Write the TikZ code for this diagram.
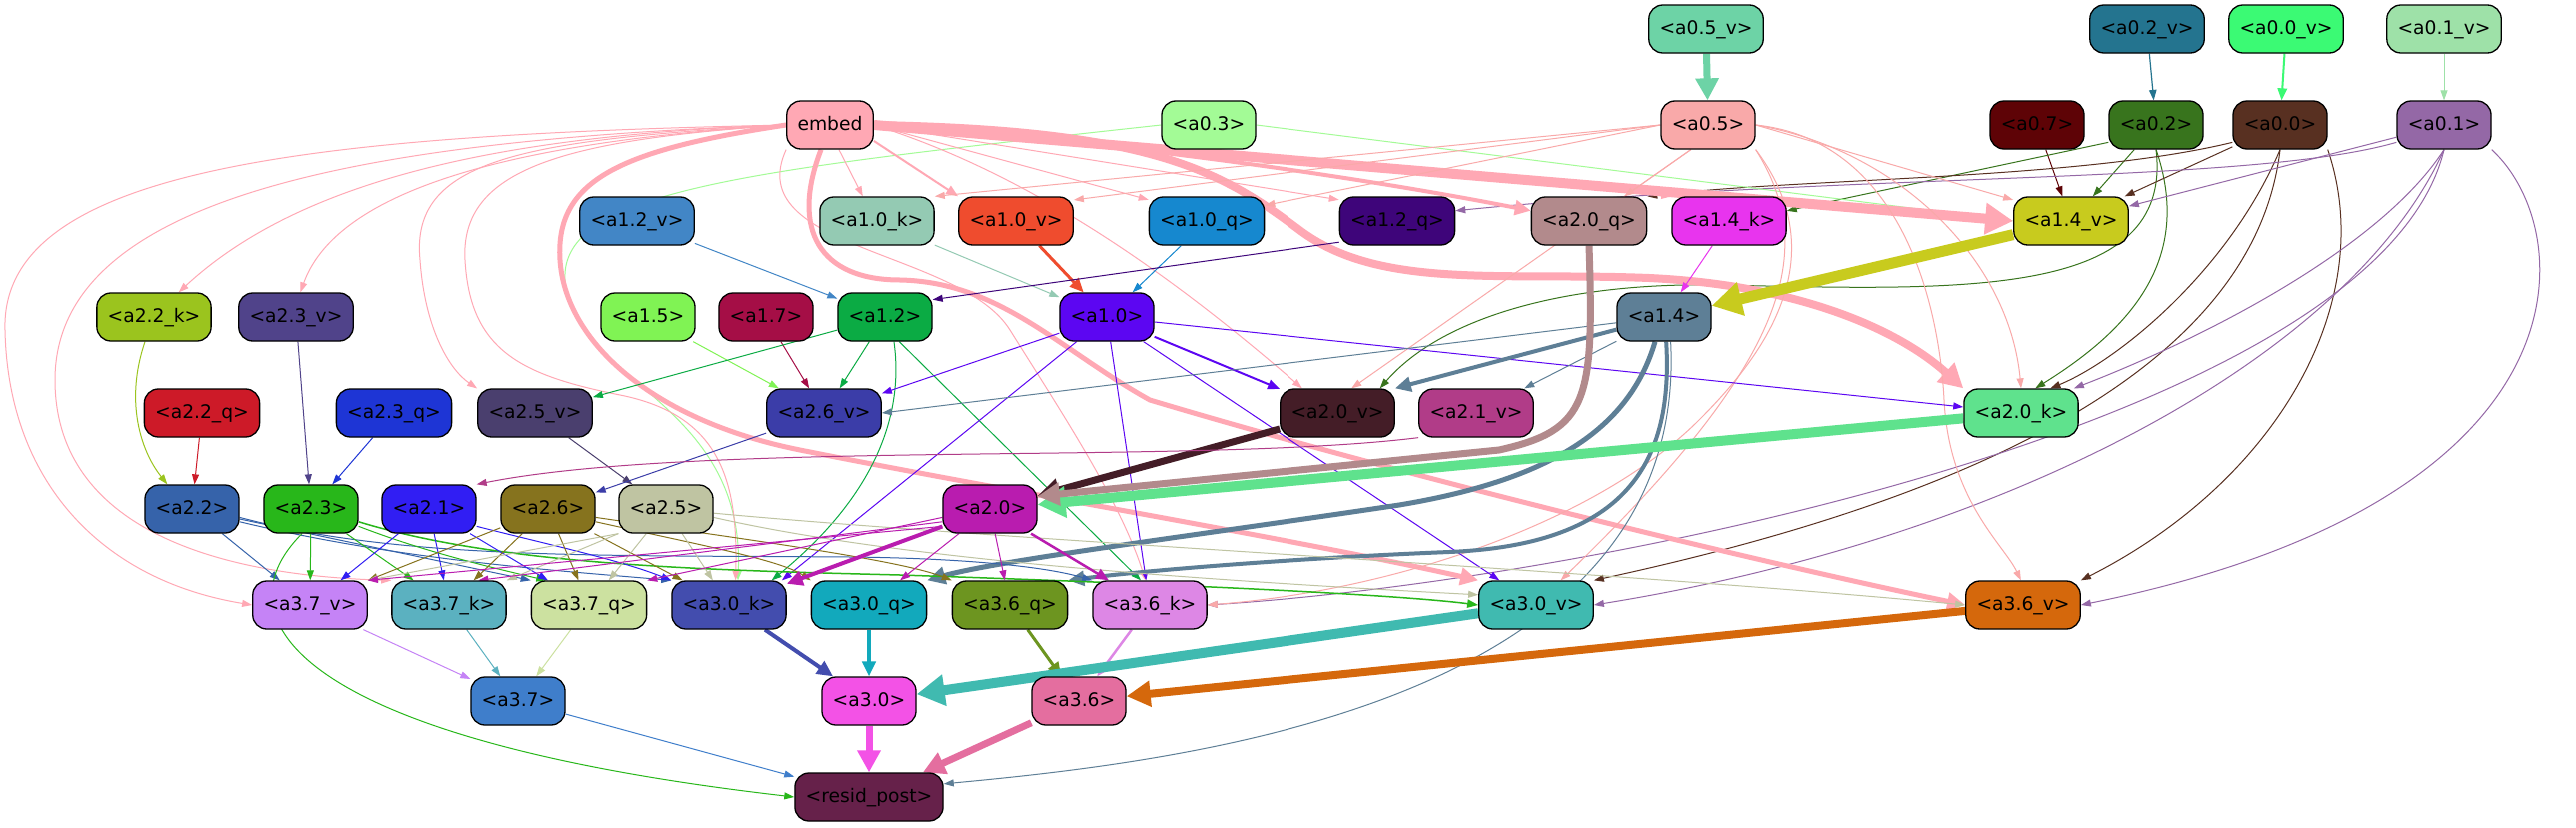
\documentclass[tikz,border=0pt]{standalone}
\usepackage{fontspec}
\setmainfont{DejaVu Sans}
\usetikzlibrary{arrows.meta}
\pgfdeclarelayer{back}\pgfdeclarelayer{edges}
\pgfsetlayers{back,edges,main}
\definecolor{cemb}{HTML}{FFA8B4}
\definecolor{c05v}{HTML}{6DD3A6}
\definecolor{c02v}{HTML}{24748F}
\definecolor{c00v}{HTML}{3BFA74}
\definecolor{c01v}{HTML}{9EE1A8}
\definecolor{c03}{HTML}{A3FB96}
\definecolor{c05}{HTML}{F9A9A9}
\definecolor{c07}{HTML}{5E0306}
\definecolor{c02}{HTML}{38741D}
\definecolor{c00}{HTML}{583021}
\definecolor{c01}{HTML}{9468A6}
\definecolor{c12v}{HTML}{4286C6}
\definecolor{c10k}{HTML}{94CAB3}
\definecolor{c10v}{HTML}{EF4C2E}
\definecolor{c10q}{HTML}{1688CF}
\definecolor{c12q}{HTML}{3E057A}
\definecolor{c20q}{HTML}{B28A8C}
\definecolor{c14k}{HTML}{E834EE}
\definecolor{c14v}{HTML}{C8CB1E}
\definecolor{c22k}{HTML}{9BC41E}
\definecolor{c23v}{HTML}{50438A}
\definecolor{c15}{HTML}{80F354}
\definecolor{c17}{HTML}{A50E46}
\definecolor{c12}{HTML}{0BAB44}
\definecolor{c10}{HTML}{5C06F2}
\definecolor{c14}{HTML}{5E7F96}
\definecolor{c22q}{HTML}{CD1A28}
\definecolor{c23q}{HTML}{1E35D5}
\definecolor{c25v}{HTML}{4A3F6E}
\definecolor{c26v}{HTML}{3B3DA8}
\definecolor{c20v}{HTML}{441D27}
\definecolor{c21v}{HTML}{B13C88}
\definecolor{c20k}{HTML}{5FE28D}
\definecolor{c22}{HTML}{3663AA}
\definecolor{c23}{HTML}{28B71A}
\definecolor{c21}{HTML}{311EF3}
\definecolor{c26}{HTML}{86731E}
\definecolor{c25}{HTML}{BFC4A2}
\definecolor{c20}{HTML}{B91CAF}
\definecolor{c37v}{HTML}{C583F6}
\definecolor{c37k}{HTML}{5BB1C0}
\definecolor{c37q}{HTML}{CCE1A0}
\definecolor{c30k}{HTML}{434DAE}
\definecolor{c30q}{HTML}{12A9BC}
\definecolor{c36q}{HTML}{6D9520}
\definecolor{c36k}{HTML}{DD87E5}
\definecolor{c30v}{HTML}{40BAB0}
\definecolor{c36v}{HTML}{D5680C}
\definecolor{c37}{HTML}{3F7ECB}
\definecolor{c30}{HTML}{F352E6}
\definecolor{c36}{HTML}{E46E9F}
\definecolor{cres}{HTML}{66214A}
\tikzset{
  nd/.style={draw=black, line width=1.3pt, rounded corners=14pt, minimum height=48pt,
    inner xsep=10.75pt, inner ysep=0pt, text height=14pt, text depth=4pt,
    font=\fontsize{18.7}{22}\selectfont, text=black},
  ed/.style 2 args={draw=#1, line width=#2pt, -{Triangle[length=8pt 2, width=4.4pt 2.56]}},
}
\begin{document}
\begin{tikzpicture}[x=1pt,y=-1pt]
\useasboundingbox (0,0) rectangle (2577,827);
\begin{pgfonlayer}{back}
\fill[white] (0,0) rectangle (2577,827);
\end{pgfonlayer}
% nodes
\node[nd,fill=c05v] (a05v) at (1707,29) {<a0.5\_v>};
\node[nd,fill=c02v] (a02v) at (2148,29) {<a0.2\_v>};
\node[nd,fill=c00v] (a00v) at (2287,29) {<a0.0\_v>};
\node[nd,fill=c01v] (a01v) at (2445,29) {<a0.1\_v>};
\node[nd,fill=cemb] (emb) at (830,125) {embed};
\node[nd,fill=c03] (a03) at (1209,125) {<a0.3>};
\node[nd,fill=c05] (a05) at (1709,125) {<a0.5>};
\node[nd,fill=c07] (a07) at (2038,125) {<a0.7>};
\node[nd,fill=c02] (a02) at (2157,125) {<a0.2>};
\node[nd,fill=c00] (a00) at (2281,125) {<a0.0>};
\node[nd,fill=c01] (a01) at (2445,125) {<a0.1>};
\node[nd,fill=c12v] (a12v) at (637,221) {<a1.2\_v>};
\node[nd,fill=c10k] (a10k) at (877,221) {<a1.0\_k>};
\node[nd,fill=c10v] (a10v) at (1016,221) {<a1.0\_v>};
\node[nd,fill=c10q] (a10q) at (1207,221) {<a1.0\_q>};
\node[nd,fill=c12q] (a12q) at (1398,221) {<a1.2\_q>};
\node[nd,fill=c20q] (a20q) at (1590,221) {<a2.0\_q>};
\node[nd,fill=c14k] (a14k) at (1730,221) {<a1.4\_k>};
\node[nd,fill=c14v] (a14v) at (2072,221) {<a1.4\_v>};
\node[nd,fill=c22k] (a22k) at (154,317) {<a2.2\_k>};
\node[nd,fill=c23v] (a23v) at (296,317) {<a2.3\_v>};
\node[nd,fill=c15] (a15) at (648,317) {<a1.5>};
\node[nd,fill=c17] (a17) at (766,317) {<a1.7>};
\node[nd,fill=c12] (a12) at (885,317) {<a1.2>};
\node[nd,fill=c10] (a10) at (1107,317) {<a1.0>};
\node[nd,fill=c14] (a14) at (1665,317) {<a1.4>};
\node[nd,fill=c22q] (a22q) at (202,413) {<a2.2\_q>};
\node[nd,fill=c23q] (a23q) at (394,413) {<a2.3\_q>};
\node[nd,fill=c25v] (a25v) at (535,413) {<a2.5\_v>};
\node[nd,fill=c26v] (a26v) at (824,413) {<a2.6\_v>};
\node[nd,fill=c20v] (a20v) at (1338,413) {<a2.0\_v>};
\node[nd,fill=c21v] (a21v) at (1477,413) {<a2.1\_v>};
\node[nd,fill=c20k] (a20k) at (2022,413) {<a2.0\_k>};
\node[nd,fill=c22] (a22) at (192,509) {<a2.2>};
\node[nd,fill=c23] (a23) at (311,509) {<a2.3>};
\node[nd,fill=c21] (a21) at (429,509) {<a2.1>};
\node[nd,fill=c26] (a26) at (548,509) {<a2.6>};
\node[nd,fill=c25] (a25) at (666,509) {<a2.5>};
\node[nd,fill=c20] (a20) at (990,509) {<a2.0>};
\node[nd,fill=c37v] (a37v) at (310,605) {<a3.7\_v>};
\node[nd,fill=c37k] (a37k) at (449,605) {<a3.7\_k>};
\node[nd,fill=c37q] (a37q) at (589,605) {<a3.7\_q>};
\node[nd,fill=c30k] (a30k) at (729,605) {<a3.0\_k>};
\node[nd,fill=c30q] (a30q) at (869,605) {<a3.0\_q>};
\node[nd,fill=c36q] (a36q) at (1010,605) {<a3.6\_q>};
\node[nd,fill=c36k] (a36k) at (1150,605) {<a3.6\_k>};
\node[nd,fill=c30v] (a30v) at (1537,605) {<a3.0\_v>};
\node[nd,fill=c36v] (a36v) at (2024,605) {<a3.6\_v>};
\node[nd,fill=c37] (a37) at (518,701) {<a3.7>};
\node[nd,fill=c30] (a30) at (869,701) {<a3.0>};
\node[nd,fill=c36] (a36) at (1079,701) {<a3.6>};
\node[nd,fill=cres] (res) at (869,797) {<resid\_post>};

\begin{pgfonlayer}{edges}
% inputs
\draw[ed={c05v}{7}] (a05v) -- (a05);
\draw[ed={c02v}{1.2}] (a02v) -- (a02);
\draw[ed={c00v}{2}] (a00v) -- (a00);
\draw[ed={c01v}{1}] (a01v) -- (a01);
% a0.7 a0.2 a0.0 a0.1
\draw[ed={c07}{1}] (a07) -- (a14v);
\draw[ed={c02}{1}] (a02) -- (a14v);
\draw[ed={c02}{1}] (a02.200) -- (a14k.10);
\draw[ed={c02}{1}] (a02.south) .. controls (2195,260) and (2130,330) .. (a20k.60);
\draw[ed={c02}{1}] (a02.south) .. controls (2175,300) and (1960,290) .. (1720,285) .. controls (1560,282) and (1440,320) .. (a20v.30);
\draw[ed={c00}{1}] (a00) -- (a14v);
\draw[ed={c00}{1}] (a00.200) .. controls (2080,180) and (1800,178) .. (a20q.north east);
\draw[ed={c00}{1}] (a00.south) .. controls (2230,270) and (2120,360) .. (a20k.40);
\draw[ed={c00}{1}] (a00.south) .. controls (2260,330) and (2060,480) .. (a30v.north east);
\draw[ed={c00}{1}] (a00.south east) .. controls (2380,300) and (2280,480) .. (a36v.north east);
\draw[ed={c01}{1}] (a01) -- (a14v);
\draw[ed={c01}{1}] (a01.200) .. controls (2250,185) and (1850,172) .. (a12q.10);
\draw[ed={c01}{1}] (a01.south) .. controls (2380,250) and (2200,340) .. (a20k.25);
\draw[ed={c01}{1}] (a01.south) .. controls (2350,360) and (2000,540) .. (a30v.east);
\draw[ed={c01}{1}] (a01.south) .. controls (2380,420) and (1600,580) .. (a36k.east);
\draw[ed={c01}{1}] (a01.south east) .. controls (2580,230) and (2600,500) .. (a36v.east);
\draw[ed={c03}{1}] (a03.east) -- (a14v.west);
\draw[ed={c03}{1}] (a03.west) .. controls (750,170) and (560,190) .. (565,280) .. controls (570,380) and (745,400) .. (a30k.70);
% embed
\draw[ed={cemb}{10}] (emb.east) -- (a14v.west);
\draw[ed={cemb}{8}] (emb.east) .. controls (1150,130) and (1220,170) .. (1300,230) .. controls (1380,290) and (1500,272) .. (1650,278) .. controls (1800,285) and (1900,330) .. (a20k.north west);
\draw[ed={cemb}{4}] (emb.east) .. controls (1100,140) and (1350,175) .. (a20q.170);
\draw[ed={cemb}{1}] (emb.east) .. controls (1200,150) and (1500,180) .. (a14k.north west);
\draw[ed={cemb}{1}] (emb.east) -- (a12q.160);
\draw[ed={cemb}{1}] (emb.east) -- (a10q.160);
\draw[ed={cemb}{2}] (emb.-20) -- (a10v.north west);
\draw[ed={cemb}{1}] (emb.290) -- (a10k.120);
\draw[ed={cemb}{1}] (emb.east) .. controls (1050,180) and (1200,300) .. (a20v.145);
\draw[ed={cemb}{1}] (emb.south west) .. controls (740,250) and (960,250) .. (1010,330) .. controls (1060,410) and (1120,500) .. (a36k.100);
\draw[ed={cemb}{5}] (emb.west) .. controls (620,150) and (555,180) .. (560,260) .. controls (565,340) and (650,420) .. (800,450) .. controls (1000,490) and (1300,540) .. (a30v.north west);
\draw[ed={cemb}{5}] (emb.250) .. controls (790,230) and (820,280) .. (900,280) .. controls (1000,282) and (1060,350) .. (1150,400) .. controls (1400,475) and (1750,560) .. (a36v.west);
\draw[ed={cemb}{1}] (emb.west) .. controls (500,135) and (300,180) .. (a22k.45);
\draw[ed={cemb}{1}] (emb.west) .. controls (450,145) and (330,210) .. (a23v.80);
\draw[ed={cemb}{1}] (emb.west) .. controls (520,140) and (410,160) .. (420,260) .. controls (425,330) and (450,370) .. (a25v.157);
\draw[ed={cemb}{1}] (emb.west) .. controls (560,140) and (460,170) .. (465,260) .. controls (470,350) and (520,375) .. (620,395) .. controls (720,415) and (738,480) .. (a30k.75);
\draw[ed={cemb}{1}] (emb.west) .. controls (300,135) and (0,170) .. (5,330) .. controls (8,480) and (100,580) .. (a37v.west);
\draw[ed={cemb}{1}] (emb.west) .. controls (350,140) and (55,200) .. (55,380) .. controls (55,520) and (200,575) .. (a37k.north west);
% a0.5
\draw[ed={c05}{1}] (a05.west) -- (a10k.north east);
\draw[ed={c05}{1}] (a05.west) -- (a10v.20);
\draw[ed={c05}{1}] (a05.west) -- (a10q.15);
\draw[ed={c05}{1}] (a05.235) -- (a20q.35);
\draw[ed={c05}{1}] (a05.east) -- (a14v.160);
\draw[ed={c05}{1}] (a05.235) -- (a20v.60);
\draw[ed={c05}{1}] (a05.east) .. controls (1900,150) and (2010,260) .. (a20k.north);
\draw[ed={c05}{1}] (a05.east) .. controls (1900,140) and (1940,300) .. (1945,400) .. controls (1950,500) and (2005,545) .. (a36v.95);
\draw[ed={c05}{1}] (a05.south east) .. controls (1820,250) and (1790,360) .. (a30v.45);
\draw[ed={c05}{1}] (a05.south east) .. controls (1840,260) and (1760,360) .. (1700,420) .. controls (1600,520) and (1400,590) .. (a36k.east);
% a1 row inputs
\draw[ed={c12v}{1}] (a12v) -- (a12);
\draw[ed={c10k}{1}] (a10k) -- (a10);
\draw[ed={c10v}{3}] (a10v) -- (a10);
\draw[ed={c10q}{1}] (a10q) -- (a10);
\draw[ed={c12q}{1}] (a12q.200) -- (a12.20);
\draw[ed={c14k}{1}] (a14k) -- (a14);
\draw[ed={c14v}{11}] (a14v) -- (a14);
\draw[ed={c15}{1}] (a15) -- (a26v);
\draw[ed={c17}{1}] (a17) -- (a26v);
\draw[ed={c12}{1}] (a12) -- (a26v);
\draw[ed={c12}{1}] (a12) -- (a25v);
\draw[ed={c12}{1}] (a12.290) .. controls (905,420) and (870,500) .. (a30k.30);
\draw[ed={c12}{1}] (a12.300) -- (a36k.110);
\draw[ed={c10}{1}] (a10) -- (a26v);
\draw[ed={c10}{2}] (a10) -- (a20v);
\draw[ed={c10}{1}] (a10) -- (a20k);
\draw[ed={c10}{1}] (a10) -- (a30k.25);
\draw[ed={c10}{1}] (a10) -- (a36k);
\draw[ed={c10}{1}] (a10) -- (a30v);
\draw[ed={c14}{4}] (a14) -- (a20v.north east);
\draw[ed={c14}{1}] (a14) -- (a21v);
\draw[ed={c14}{1}] (a14) -- (a26v.east);
\draw[ed={c14}{5}] (a14.250) .. controls (1630,430) and (1550,480) .. (1400,505) .. controls (1200,535) and (1000,560) .. (a30q.north east);
\draw[ed={c14}{4}] (a14.275) .. controls (1675,470) and (1620,545) .. (1450,552) .. controls (1300,558) and (1150,570) .. (a36q.north east);
\draw[ed={c14}{1}] (a14.285) .. controls (1690,700) and (1200,760) .. (res.10);
% a2 row inputs
\draw[ed={c22k}{1}] (a22k.250) .. controls (125,400) and (140,450) .. (a22.135);
\draw[ed={c22q}{1}] (a22q) -- (a22);
\draw[ed={c23v}{1}] (a23v) -- (a23);
\draw[ed={c23q}{1}] (a23q) -- (a23);
\draw[ed={c25v}{1}] (a25v) -- (a25);
\draw[ed={c26v}{1}] (a26v) -- (a26);
\draw[ed={c20v}{7}] (a20v) -- (a20);
\draw[ed={c21v}{1}] (a21v.south west) .. controls (1200,465) and (700,440) .. (a21.north east);
\draw[ed={c20k}{10}] (a20k) -- (a20);
\draw[ed={c20q}{7}] (a20q.south) .. controls (1595,400) and (1590,430) .. (1500,450) .. controls (1300,470) and (1200,480) .. (a20.15);
% a2 -> a3
\draw[ed={c22}{1}] (a22) -- (a37v);
\draw[ed={c22}{1}] (a22) -- (a37q.north west);
\draw[ed={c22}{1}] (a22.-15) .. controls (400,560) and (550,570) .. (a30k.north west);
\draw[ed={c22}{1}] (a22.-10) .. controls (400,560) and (600,555) .. (850,557) .. controls (950,558) and (1040,565) .. (a36k.north west);
\draw[ed={c23}{1}] (a23) -- (a37v);
\draw[ed={c23}{1}] (a23) -- (a37k);
\draw[ed={c23}{1}] (a23.-20) .. controls (420,550) and (480,565) .. (a37q.150);
\draw[ed={c23}{1.5}] (a23.-15) .. controls (500,565) and (700,570) .. (900,575) .. controls (1200,585) and (1400,595) .. (a30v.west);
\draw[ed={c23}{1}] (a23.250) .. controls (215,620) and (300,740) .. (res.west);
\draw[ed={c21}{1}] (a21) -- (a37v);
\draw[ed={c21}{1}] (a21) -- (a37k);
\draw[ed={c21}{1}] (a21) -- (a37q);
\draw[ed={c21}{1}] (a21.-20) .. controls (550,545) and (620,560) .. (a30k.north west);
\draw[ed={c26}{1}] (a26) -- (a37v.north east);
\draw[ed={c26}{1}] (a26) -- (a37k.45);
\draw[ed={c26}{1}] (a26) -- (a37q);
\draw[ed={c26}{1}] (a26) -- (a30k);
\draw[ed={c26}{1}] (a26.-15) .. controls (700,545) and (780,560) .. (a30q.north west);
\draw[ed={c26}{1}] (a26.-10) .. controls (750,540) and (900,560) .. (a36q.north west);
\draw[ed={c25}{1}] (a25.south west) -- (a37v.north east);
\draw[ed={c25}{1}] (a25.south west) -- (a37k.north east);
\draw[ed={c25}{1}] (a25) -- (a37q);
\draw[ed={c25}{1}] (a25) -- (a30k);
\draw[ed={c25}{1}] (a25.-10) .. controls (900,560) and (1200,580) .. (a30v.170);
\draw[ed={c25}{1}] (a25.-5) .. controls (1000,540) and (1600,570) .. (a36v.west);
\draw[ed={c20}{1}] (a20.200) -- (a37v.north east);
\draw[ed={c20}{1}] (a20.195) -- (a37k.40);
\draw[ed={c20}{1}] (a20.190) -- (a37q.north east);
\draw[ed={c20}{4}] (a20) -- (a30k);
\draw[ed={c20}{1}] (a20) -- (a30q);
\draw[ed={c20}{1}] (a20) -- (a36q);
\draw[ed={c20}{2.5}] (a20) -- (a36k);
% a3 row
\draw[ed={c37v}{1}] (a37v) -- (a37);
\draw[ed={c37k}{1}] (a37k) -- (a37);
\draw[ed={c37q}{1}] (a37q) -- (a37);
\draw[ed={c30k}{4}] (a30k) -- (a30);
\draw[ed={c30q}{3.5}] (a30q) -- (a30);
\draw[ed={c36q}{3}] (a36q) -- (a36);
\draw[ed={c36k}{2.5}] (a36k) -- (a36);
\draw[ed={c30v}{10}] (a30v) -- (a30);
\draw[ed={c36v}{8}] (a36v) -- (a36);
\draw[ed={c37}{1}] (a37) -- (res);
\draw[ed={c30}{7}] (a30) -- (res);
\draw[ed={c36}{7}] (a36) -- (res);
\end{pgfonlayer}
\end{tikzpicture}
\end{document}
